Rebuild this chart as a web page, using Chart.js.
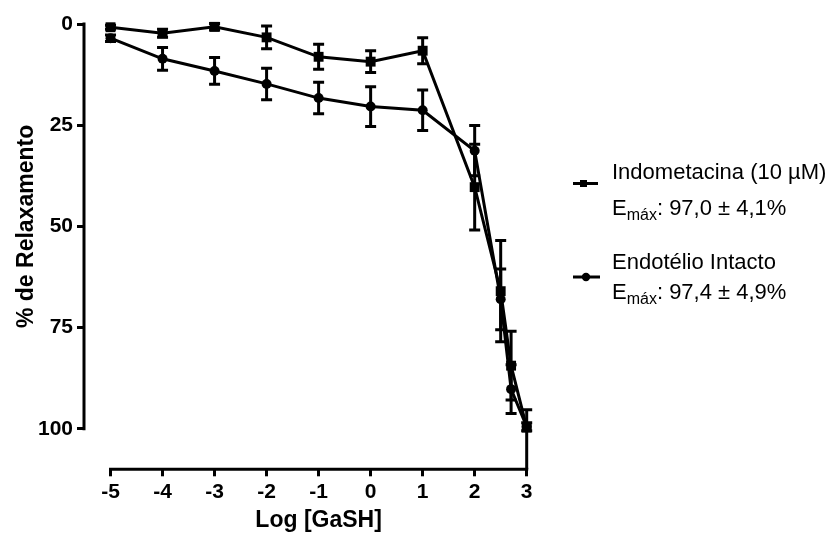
<!DOCTYPE html>
<html>
<head>
<meta charset="utf-8">
<script src="https://cdn.jsdelivr.net/npm/chart.js@4.4.0/dist/chart.umd.min.js"></script>
<style>
  html, body { margin: 0; padding: 0; background: #fff; }
  canvas { display: block; }
</style>
</head>
<body>
<canvas id="grafico" width="837" height="536"></canvas>
<script>
// Dados
var logDose = [-5, -4, -3, -2, -1, 0, 1, 2, 2.5, 2.7, 3];

var indometacina = [0.8, 2.3, 0.7, 3.3, 8.1, 9.3, 6.6, 40.3, 66, 84.4, 99.7];
var indoErrUp    = [0.5, 1.0, 0.8, 2.8, 3.1, 2.7, 3.2, 10.6, 12.5, 8.5, 4.4];
var indoErrDown  = [0.5, 1.0, 0.8, 2.8, 3.1, 2.7, 3.2, 10.6, 12.5, 8.5, 10.5];

var endotelio    = [3.5, 8.6, 11.6, 14.8, 18.3, 20.4, 21.3, 31.3, 68, 90.2, 99.5];
var endoErrUp    = [0.8, 2.8, 3.3, 3.9, 3.9, 4.9, 5.0, 6.2, 7.5, 6.0, 1.0];
var endoErrDown  = [0.8, 2.8, 3.3, 3.9, 3.9, 4.9, 5.0, 6.2, 7.5, 6.0, 1.0];

var xTicks = [-5, -4, -3, -2, -1, 0, 1, 2, 3];
var yTicks = [0, 25, 50, 75, 100];

var FONT = "'Liberation Sans', Arial, Helvetica, sans-serif";

function toPoints(ys) {
    return logDose.map(function(d, i) { return { x: d, y: ys[i] }; });
}

// barras de erro (desenhadas antes dos marcadores)
function drawErrors(chart, ys, up, down) {
    var ctx = chart.ctx;
    var xs = chart.scales.x, sc = chart.scales.y;
    ctx.save();
    ctx.strokeStyle = '#000';
    ctx.lineWidth = 3;
    logDose.forEach(function(d, i) {
        var px = xs.getPixelForValue(d);
        var top = ys[i] - up[i];
        var bot = ys[i] + down[i];
        var clipped = bot > sc.max;
        if (clipped) bot = sc.max;
        var pTop = sc.getPixelForValue(top);
        var pBot = sc.getPixelForValue(bot);
        ctx.beginPath();
        ctx.moveTo(px, pTop);
        ctx.lineTo(px, pBot);
        ctx.moveTo(px - 5.5, pTop);
        ctx.lineTo(px + 5.5, pTop);
        if (!clipped) {
            ctx.moveTo(px - 5.5, pBot);
            ctx.lineTo(px + 5.5, pBot);
        }
        ctx.stroke();
    });
    ctx.restore();
}

var errorBars = {
    id: 'errorBars',
    beforeDatasetsDraw: function(chart) {
        drawErrors(chart, indometacina, indoErrUp, indoErrDown);
        drawErrors(chart, endotelio, endoErrUp, endoErrDown);
    }
};

// eixos no estilo Prism, títulos e legenda
var decor = {
    id: 'decor',
    beforeDatasetsDraw: function(chart) {
        var ctx = chart.ctx;
        var xs = chart.scales.x, sc = chart.scales.y;
        var area = chart.chartArea;
        ctx.save();
        ctx.strokeStyle = '#000';
        ctx.lineWidth = 3;
        ctx.beginPath();
        ctx.moveTo(xs.getPixelForValue(xTicks[0]) - 1.5, area.bottom);
        ctx.lineTo(xs.getPixelForValue(xTicks[xTicks.length - 1]) + 1.5, area.bottom);
        ctx.moveTo(area.left, sc.getPixelForValue(yTicks[0]) - 1.5);
        ctx.lineTo(area.left, sc.getPixelForValue(yTicks[yTicks.length - 1]) + 1.5);
        ctx.stroke();
        ctx.restore();
    },
    afterDraw: function(chart) {
        var ctx = chart.ctx;
        var xs = chart.scales.x, sc = chart.scales.y;
        ctx.save();
        ctx.fillStyle = '#000';

        // título eixo x
        ctx.font = 'bold 23px ' + FONT;
        ctx.textAlign = 'center';
        ctx.textBaseline = 'alphabetic';
        var cx = (xs.getPixelForValue(xTicks[0]) + xs.getPixelForValue(xTicks[xTicks.length - 1])) / 2;
        ctx.fillText('Log [GaSH]', cx, 527);

        // título eixo y
        ctx.save();
        ctx.translate(33, sc.getPixelForValue(50));
        ctx.rotate(-Math.PI / 2);
        ctx.fillText('% de Relaxamento', 0, 0);
        ctx.restore();

        // legenda
        ctx.textAlign = 'left';
        ctx.strokeStyle = '#000';
        ctx.lineWidth = 3;
        ctx.beginPath();
        ctx.moveTo(573, 183.5); ctx.lineTo(598, 183.5);
        ctx.moveTo(573, 277); ctx.lineTo(600, 277);
        ctx.stroke();
        ctx.fillRect(580, 180, 7, 7);
        ctx.beginPath();
        ctx.arc(586, 277, 4.2, 0, Math.PI * 2);
        ctx.fill();

        function emax(x, y, txt) {
            ctx.font = '22px ' + FONT;
            ctx.fillText('E', x, y);
            x += ctx.measureText('E').width;
            ctx.font = '16px ' + FONT;
            ctx.fillText('máx', x, y + 5);
            x += ctx.measureText('máx').width;
            ctx.font = '22px ' + FONT;
            ctx.fillText(txt, x, y);
        }

        ctx.font = '22px ' + FONT;
        ctx.fillText('Indometacina (10 \u00b5M)', 612, 179);
        emax(612, 215, ': 97,0 \u00b1 4,1%');
        ctx.font = '22px ' + FONT;
        ctx.fillText('Endotélio Intacto', 612, 269);
        emax(612, 299, ': 97,4 \u00b1 4,9%');

        ctx.restore();
    }
};

var ctx = document.getElementById('grafico');
new Chart(ctx, {
    type: 'line',
    data: {
        datasets: [{
            label: 'Indometacina (10 µM)',
            data: toPoints(indometacina),
            borderColor: '#000',
            backgroundColor: '#000',
            borderWidth: 3,
            tension: 0,
            pointStyle: 'rect',
            pointRadius: 7,
            pointBorderWidth: 0,
            pointBackgroundColor: '#000',
            clip: false
        }, {
            label: 'Endotélio Intacto',
            data: toPoints(endotelio),
            borderColor: '#000',
            backgroundColor: '#000',
            borderWidth: 3,
            tension: 0,
            pointStyle: 'circle',
            pointRadius: 5,
            pointBorderWidth: 0,
            pointBackgroundColor: '#000',
            clip: false
        }]
    },
    options: {
        responsive: false,
        animation: false,
        devicePixelRatio: 1,
        layout: { padding: { left: 0, top: 24, right: 310.3, bottom: 0 } },
        plugins: {
            legend: { display: false },
            tooltip: { enabled: false }
        },
        scales: {
            x: {
                type: 'linear',
                min: -5.51,
                max: 3,
                afterBuildTicks: function(s) {
                    s.ticks = xTicks.map(function(v) { return { value: v }; });
                },
                afterFit: function(s) { s.height = 536 - 469.3; },
                ticks: {
                    color: '#000',
                    font: { family: FONT, size: 21, weight: 'bold' },
                    padding: 3,
                    maxRotation: 0,
                    autoSkip: false
                },
                grid: {
                    drawOnChartArea: false,
                    drawTicks: true,
                    tickLength: 7,
                    lineWidth: 3,
                    color: '#000'
                },
                border: { display: false }
            },
            y: {
                type: 'linear',
                min: 0,
                max: 110,
                reverse: true,
                afterBuildTicks: function(s) {
                    s.ticks = yTicks.map(function(v) { return { value: v }; });
                },
                afterFit: function(s) { s.width = 84; },
                ticks: {
                    color: '#000',
                    font: { family: FONT, size: 21, weight: 'bold' },
                    padding: 4
                },
                grid: {
                    drawOnChartArea: false,
                    drawTicks: true,
                    tickLength: 7,
                    lineWidth: 3,
                    color: '#000'
                },
                border: { display: false }
            }
        }
    },
    plugins: [errorBars, decor]
});
</script>
</body>
</html>
